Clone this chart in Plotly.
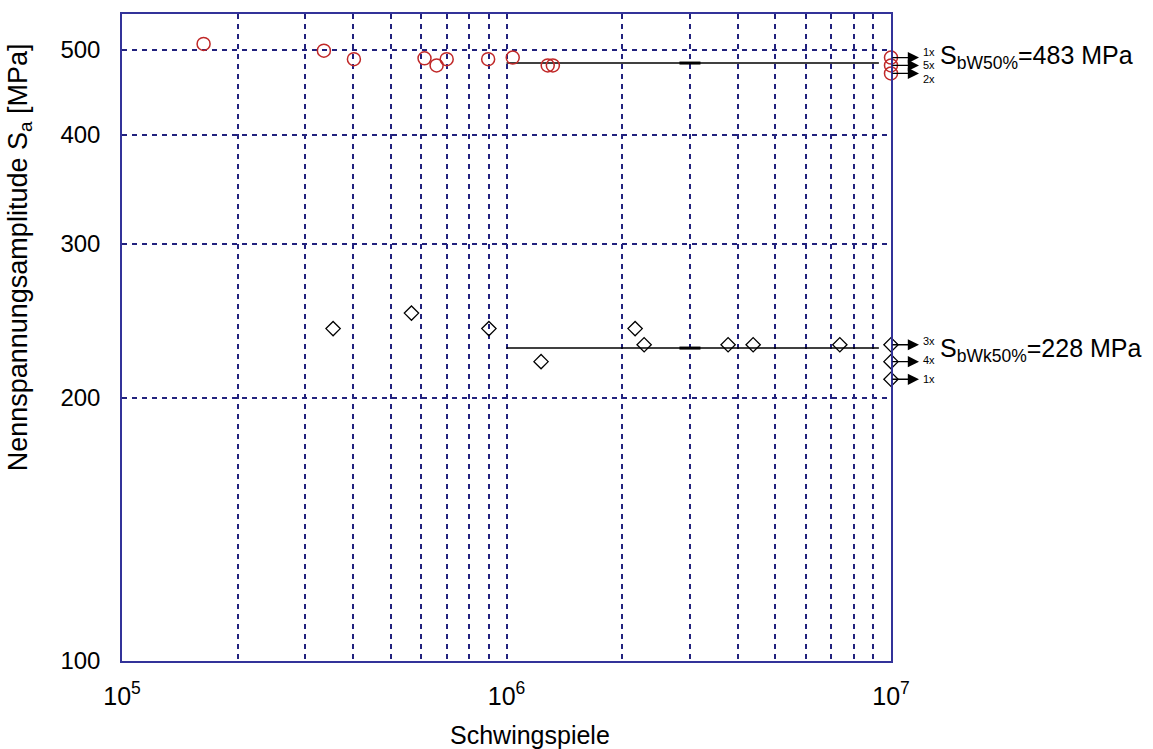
import numpy as np
import plotly.graph_objects as go

# Wöhler test results: upper stress level (red circles)
high_N = [1.63e5, 3.35e5, 4.01e5, 6.12e5, 6.58e5, 6.99e5, 8.96e5, 1.038e6, 1.28e6, 1.32e6]
high_S = [508, 499, 488, 489, 480, 488, 488, 490, 480, 480]
# run-outs at the cycle limit, with their multiplicity
high_runout_S = [490, 480, 470]
high_runout_cnt = ["1x", "5x", "2x"]

# lower stress level (black diamonds)
low_N = [3.54e5, 5.66e5, 9.0e5, 1.23e6, 2.16e6, 2.28e6, 3.77e6, 4.38e6, 7.36e6]
low_S = [240, 250, 240, 220, 240, 230, 230, 230, 230]
low_runout_S = [230, 220, 210]
low_runout_cnt = ["3x", "4x", "1x"]

runout_N = 1e7

# 50 % endurance levels
S_bW50 = 483
S_bWk50 = 228
mean_N_range = [1e6, 9.3e6]
mean_mark_N = 3e6

x_ticks = [k * 10 ** e for e in (5, 6) for k in range(1, 10)] + [1e7]
x_ticktext = ["10<sup>%d</sup>" % int(np.log10(v)) if abs(np.log10(v) - round(np.log10(v))) < 1e-9 else "" for v in x_ticks]
y_ticks = [100, 200, 300, 400, 500]

FONT = "Liberation Sans, Arial, sans-serif"
RED = "#c02828"
GRID = "#22227e"

fig = go.Figure()

# mean lines with a short bold mark
for S in (S_bW50, S_bWk50):
    fig.add_trace(go.Scatter(x=mean_N_range, y=[S, S], mode="lines",
                             line=dict(color="black", width=1.5), showlegend=False,
                             hoverinfo="skip"))
    fig.add_trace(go.Scatter(x=[mean_mark_N], y=[S], mode="markers",
                             marker=dict(symbol="line-ew-open", size=15, color="black",
                                         line=dict(color="black", width=3)),
                             showlegend=False, hoverinfo="skip"))

fig.add_trace(go.Scatter(x=high_N + [runout_N] * len(high_runout_S),
                         y=high_S + high_runout_S, mode="markers",
                         marker=dict(symbol="circle-open", size=13, color=RED,
                                     line=dict(color=RED, width=1.5)),
                         cliponaxis=False, showlegend=False))
fig.add_trace(go.Scatter(x=low_N + [runout_N] * len(low_runout_S),
                         y=low_S + low_runout_S, mode="markers",
                         marker=dict(symbol="diamond-open", size=11, color="black",
                                     line=dict(color="black", width=1.3)),
                         cliponaxis=False, showlegend=False))

# run-out arrows and labels, placed right of the plot area (paper x)
x_head = 1.0 + 28 / 769
x_cnt = 1.0 + 30 / 769
x_lab = 1.0 + 47 / 769

annotations = []
for vals, cnts, shifts in ((high_runout_S, high_runout_cnt, [6, 0, -6]),
                           (low_runout_S, low_runout_cnt, [4, 2, 0])):
    for S, c, sh in zip(vals, cnts, shifts):
        annotations.append(dict(x=x_head, y=np.log10(S), ax=-28, ay=0,
                                xref="paper", yref="y", axref="pixel", ayref="pixel",
                                text="", showarrow=True, arrowhead=2, arrowsize=1.6,
                                arrowwidth=1.4, arrowcolor="black", standoff=0,
                                startstandoff=0))
        annotations.append(dict(x=x_cnt, y=np.log10(S), xref="paper", yref="y",
                                text=c, showarrow=False, xanchor="left",
                                yanchor="middle", yshift=sh,
                                font=dict(family=FONT, size=11, color="black")))

for S, sub, sh in ((S_bW50, "bW50%", 6), (S_bWk50, "bWk50%", -2)):
    annotations.append(dict(x=x_lab, y=np.log10(S), xref="paper", yref="y",
                            text="S<sub>%s</sub>=%d MPa" % (sub, S), showarrow=False,
                            xanchor="left", yanchor="middle", yshift=sh,
                            font=dict(family=FONT, size=25, color="black")))

annotations.append(dict(x=-0.1326, y=0.624, xref="paper", yref="paper",
                        text="Nennspannungsamplitude S<sub>a</sub> [MPa]",
                        textangle=-90, showarrow=False, xanchor="center",
                        yanchor="middle",
                        font=dict(family=FONT, size=27, color="black")))
annotations.append(dict(x=0.5306, y=-0.114, xref="paper", yref="paper",
                        text="Schwingspiele", showarrow=False, xanchor="center",
                        yanchor="middle",
                        font=dict(family=FONT, size=25, color="black")))

fig.update_layout(
    width=1153, height=749,
    margin=dict(l=122, r=262, t=12, b=88),
    paper_bgcolor="white", plot_bgcolor="white",
    annotations=annotations,
    xaxis=dict(type="log", range=[5, 7], tickvals=x_ticks, ticktext=x_ticktext,
               showgrid=True, gridcolor=GRID, gridwidth=1.5, griddash="5px,5px",
               showline=True, linecolor="#333399", linewidth=1.5, mirror=True,
               ticks="", zeroline=False, ticklabelstandoff=12,
               tickfont=dict(family=FONT, size=25, color="black")),
    yaxis=dict(type="log", range=[2, np.log10(549.6)], tickvals=y_ticks,
               ticktext=[str(v) for v in y_ticks],
               showgrid=True, gridcolor=GRID, gridwidth=1.5, griddash="5px,5px",
               showline=True, linecolor="#333399", linewidth=1.5, mirror=True,
               ticks="", zeroline=False, ticklabelstandoff=15,
               tickfont=dict(family=FONT, size=24, color="black")),
)

fig.write_html("out.html")
